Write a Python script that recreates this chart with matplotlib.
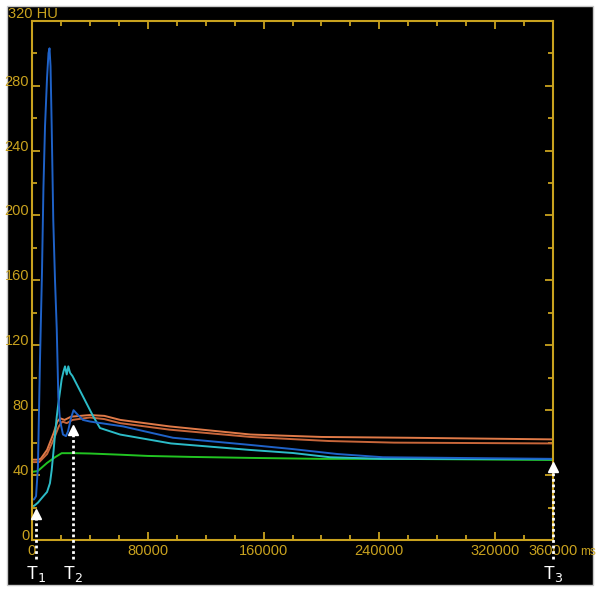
import matplotlib
matplotlib.use("Agg")
import matplotlib.pyplot as plt
from matplotlib.patches import Rectangle
from matplotlib.ticker import MultipleLocator

# time (ms) / attenuation (HU) curves
blue_t = [0, 1400, 2800, 4100, 5500, 6900, 7900, 9000, 10400, 11400, 12100, 12800,
          13600, 14700, 15900, 17100, 17600, 18200, 19300, 21400, 23500, 24900,
          26900, 28700, 31800, 35200, 40100, 62900, 97400, 150600, 180400, 210800,
          242500, 360000]
blue_hu = [25, 25, 27, 45, 110, 165, 217, 255, 285, 300, 303, 292,
           255, 197, 160, 130, 111, 88, 74, 65, 64, 67,
           75, 80, 77, 74, 73, 70, 63, 58.6, 56, 53,
           51, 50]

cyan_t = [0, 1400, 4100, 6900, 10400, 12400, 13600, 14900, 15900, 17100, 18200,
          20500, 21800, 22800, 24000, 25100, 26300, 28000, 42400, 47000, 60800,
          96000, 150600, 180400, 205900, 242500, 360000]
cyan_hu = [21, 21, 23, 26, 29.6, 35, 43, 55, 65, 76, 84,
           99, 104, 107, 102, 107, 103, 101, 76, 69, 65,
           59.5, 55.5, 53.6, 51, 50, 49.8]

orange1_t = [0, 4000, 6000, 10400, 15000, 17500, 19500, 22500, 27000, 40000, 50000,
             61000, 95000, 151000, 200000, 260000, 360000]
orange1_hu = [49.5, 49.5, 50, 55.5, 66, 73, 75, 74, 76, 77, 76.5,
              74, 70, 65, 63.5, 63, 62]

orange2_t = [0, 5000, 10400, 15000, 18500, 21000, 24000, 28000, 40000, 50000,
             61000, 95000, 151000, 205000, 250000, 360000]
orange2_hu = [48, 48, 53, 62, 70, 73, 72, 74, 75.5, 74.5,
              72, 68, 63.5, 61, 60, 59.5]

green_t = [0, 4000, 10400, 15900, 20500, 30000, 40000, 60000, 80000, 110000,
           150000, 200000, 250000, 360000]
green_hu = [42, 42.5, 47.5, 51, 53.5, 53.5, 53.3, 52.6, 51.8, 51.2,
            50.6, 50, 50, 49.3]

# time markers
marker_t = [2800, 28500, 360000]
marker_hu = [18.5, 70, 47.5]
marker_names = ["1", "2", "3"]

xticks = [0, 80000, 160000, 240000, 320000, 360000]
xlabels = ["0", "80000", "160000", "240000", "320000", "360000"]
yticks = [0, 40, 80, 120, 160, 200, 240, 280, 320]
ylabels = ["0", "40", "80", "120", "160", "200", "240", "280", ""]

gold = "#c9a21e"
font = ["Liberation Sans Narrow", "Liberation Sans", "DejaVu Sans"]
plt.rcParams["font.family"] = font

fig = plt.figure(figsize=(6, 5.92), dpi=100, facecolor="white")
fig.patches.append(Rectangle((7 / 600, 1 - 585 / 592), 586 / 600, 579 / 592,
                             transform=fig.transFigure, facecolor="black",
                             edgecolor="#c8c8c8", lw=1, zorder=-10))

ax = fig.add_axes([32 / 600, 1 - 540 / 592, 521 / 600, 519.3 / 592])
ax.set_facecolor("black")

lw = 1.4
ax.plot(orange1_t, orange1_hu, color="#e07a48", lw=lw)
ax.plot(orange2_t, orange2_hu, color="#c8663a", lw=lw)
ax.plot(green_t, green_hu, color="#22c422", lw=lw)
ax.plot(cyan_t, cyan_hu, color="#2cbcc8", lw=lw)
ax.plot(blue_t, blue_hu, color="#1f62c8", lw=lw)

ax.set_xlim(0, 360000)
ax.set_ylim(0, 320)

for s in ax.spines.values():
    s.set_color(gold)
    s.set_linewidth(1.5)

ax.set_xticks(xticks, xlabels)
ax.set_yticks(yticks, ylabels)
ax.xaxis.set_minor_locator(MultipleLocator(20000))
ax.yaxis.set_minor_locator(MultipleLocator(20))
ax.tick_params(which="both", direction="in", top=True, right=True,
               color=gold, labelcolor=gold, labelsize=10.5, width=1.3)
ax.tick_params(which="major", length=6)
ax.tick_params(which="minor", length=3.5)
ax.tick_params(axis="x", pad=3)
ax.tick_params(axis="y", pad=2)
for lbl in ax.get_yticklabels():
    lbl.set_va("baseline")

fig.text(8 / 600, 1 - 18.3 / 592, "320 HU", color=gold, fontsize=10.5,
         ha="left", va="baseline")
ax.text(378500, -7.4, "ms", color=gold, fontsize=8.5, ha="left", va="center",
        clip_on=False)

# white dotted arrows with labels T1, T2, T3
for t, hu, name in zip(marker_t, marker_hu, marker_names):
    ax.plot([t, t], [-11.5, hu - 4], color="white", lw=2, ls=(0, (1, 1)),
            clip_on=False, zorder=5)
    ax.plot(t, hu - 2.5, marker="^", color="white", ms=7, clip_on=False,
            zorder=6)
    ax.text(t, -21, "T$_{" + name + "}$", color="white", fontsize=13,
            ha="center", va="center", clip_on=False)

fig.savefig("out.png", dpi=100, facecolor="white")
